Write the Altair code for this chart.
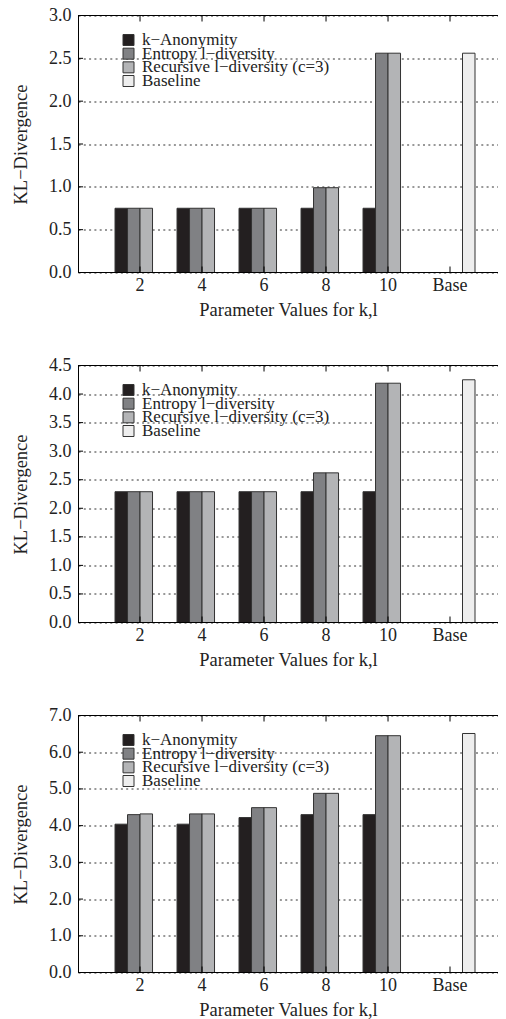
import altair as alt
import pandas as pd

params = ["2", "4", "6", "8", "10", "Base"]
series = ["k−Anonymity", "Entropy l−diversity", "Recursive l−diversity (c=3)", "Baseline"]
colors = ["#231f20", "#808184", "#b3b4b6", "#eeeeee"]

p1_kanon = [0.75, 0.75, 0.75, 0.75, 0.75]
p1_entropy = [0.75, 0.75, 0.75, 0.99, 2.56]
p1_recursive = [0.75, 0.75, 0.75, 0.99, 2.56]
p1_baseline = 2.56
p1_ticks = [0.0, 0.5, 1.0, 1.5, 2.0, 2.5, 3.0]

p2_kanon = [2.29, 2.29, 2.29, 2.29, 2.29]
p2_entropy = [2.29, 2.29, 2.29, 2.62, 4.19]
p2_recursive = [2.29, 2.29, 2.29, 2.62, 4.19]
p2_baseline = 4.25
p2_ticks = [0.0, 0.5, 1.0, 1.5, 2.0, 2.5, 3.0, 3.5, 4.0, 4.5]

p3_kanon = [4.04, 4.04, 4.22, 4.30, 4.30]
p3_entropy = [4.30, 4.32, 4.49, 4.88, 6.45]
p3_recursive = [4.32, 4.32, 4.49, 4.88, 6.45]
p3_baseline = 6.51
p3_ticks = [0.0, 1.0, 2.0, 3.0, 4.0, 5.0, 6.0, 7.0]

W = 420
H = 257
FONT = "Liberation Serif"


def panel(kanon, entropy, recursive, baseline, yticks):
    rows = []
    for i, p in enumerate(params[:5]):
        rows.append({"param": p, "series": series[0], "value": kanon[i]})
        rows.append({"param": p, "series": series[1], "value": entropy[i]})
        rows.append({"param": p, "series": series[2], "value": recursive[i]})
    rows.append({"param": "Base", "series": series[3], "value": baseline})
    df = pd.DataFrame(rows)

    xscale = alt.Scale(domain=params, paddingInner=0.1935, paddingOuter=0.484, align=0.617)
    cscale = alt.Scale(domain=series, range=colors)
    ydomain = [yticks[0], yticks[-1]]

    bars = alt.Chart(df).mark_bar(stroke="#333333", strokeWidth=1).encode(
        x=alt.X("param:N", scale=xscale,
                axis=alt.Axis(title="Parameter Values for k,l", labelAngle=0, domain=False,
                              ticks=False, tickSize=0, labelPadding=4, titleY=37,
                              titleBaseline="middle")),
        xOffset=alt.XOffset("series:N", scale=alt.Scale(domain=series, paddingInner=0, paddingOuter=0)),
        y=alt.Y("value:Q", scale=alt.Scale(domain=ydomain, nice=False),
                axis=alt.Axis(values=yticks, format=".1f", title="KL−Divergence", grid=True,
                              gridDash=[2, 3.3], gridColor="#333333", gridWidth=1,
                              ticks=False, tickSize=0, labelPadding=7, domainColor="black",
                              titleX=-58, titleY=H / 2, titleBaseline="middle")),
        color=alt.Color("series:N", scale=cscale, legend=None),
    )

    # inward ticks on the left axis
    ytick_df = pd.DataFrame({"v": yticks})
    left_ticks = alt.Chart(ytick_df).mark_rule(color="black", strokeWidth=1).encode(
        y=alt.Y("v:Q", scale=alt.Scale(domain=ydomain, nice=False), axis=None),
        x=alt.value(0), x2=alt.value(5))

    # inward ticks on the bottom and top edges
    tick_df = pd.DataFrame({"param": params})
    bottom_ticks = alt.Chart(tick_df).mark_rule(color="black", strokeWidth=1).encode(
        x=alt.X("param:N", scale=xscale), y=alt.value(H - 6), y2=alt.value(H))
    top_ticks = alt.Chart(tick_df).mark_rule(color="black", strokeWidth=1).encode(
        x=alt.X("param:N", scale=xscale), y=alt.value(0), y2=alt.value(6))

    edge_df = pd.DataFrame({"edge": ["top"]})
    top_line = alt.Chart(edge_df).mark_rule(color="black", strokeWidth=1).encode(
        x=alt.value(0), x2=alt.value(W), y=alt.value(0))
    bottom_line = alt.Chart(edge_df).mark_rule(color="black", strokeWidth=1).encode(
        x=alt.value(0), x2=alt.value(W), y=alt.value(H))

    # legend drawn inside the plot
    leg_df = pd.DataFrame({"series": series})
    leg_y = alt.Y("series:N", scale=alt.Scale(domain=series, range=[24.5, 65.5], padding=0), axis=None)
    leg_sq = alt.Chart(leg_df).mark_square(size=121, filled=True, opacity=1, stroke="#333333",
                                           strokeWidth=1).encode(
        x=alt.value(50.5), y=leg_y, color=alt.Color("series:N", scale=cscale, legend=None))
    leg_tx = alt.Chart(leg_df).mark_text(align="left", baseline="middle", font=FONT, fontSize=17,
                                         color="#222222").encode(
        x=alt.value(64), y=leg_y, text="series:N")

    return alt.layer(bars, left_ticks, bottom_ticks, top_ticks, top_line, bottom_line,
                     leg_sq, leg_tx).resolve_scale(y="independent").properties(width=W, height=H)


c1 = panel(p1_kanon, p1_entropy, p1_recursive, p1_baseline, p1_ticks)
c2 = panel(p2_kanon, p2_entropy, p2_recursive, p2_baseline, p2_ticks)
c3 = panel(p3_kanon, p3_entropy, p3_recursive, p3_baseline, p3_ticks)

chart = alt.vconcat(c1, c2, c3, spacing=93, bounds="flush").resolve_scale(
    y="independent", color="independent"
).properties(
    padding={"left": 2, "top": -1.5, "right": -1, "bottom": 0}
).configure_view(stroke=None).configure_axis(
    labelFont=FONT, titleFont=FONT, labelFontSize=18, titleFontSize=18.5,
    labelColor="#222222", titleColor="#222222", titleFontWeight="normal"
)

chart.save("out.html", embed_options={"renderer": "svg", "actions": False})
